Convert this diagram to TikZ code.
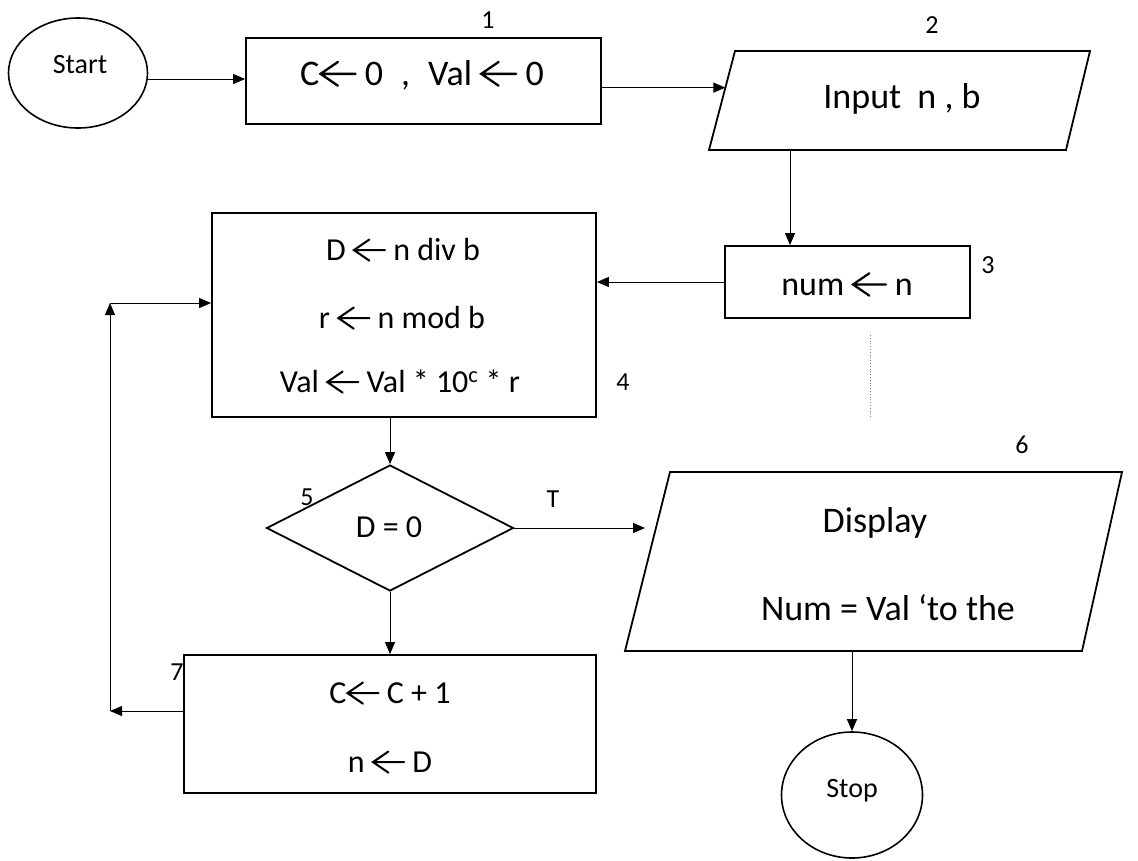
\documentclass[tikz,border=0pt]{standalone}
\usepackage{fontspec}
\setmainfont{Carlito}
\usetikzlibrary{shapes.geometric,arrows.meta,calc}
\newcommand\la{\tikz[baseline=0pt, x=1em, y=1em]{\draw[line width=0.065em, line cap=round, line join=miter] (1.05,0.31) -- (0.1,0.31) (0.56,0.64) -- (0.08,0.31) -- (0.56,-0.02);}}
\tikzset{
  box/.style={draw, line width=1.8pt, rectangle, inner sep=0pt},
  shapeline/.style={draw, line width=1.8pt, line join=miter},
  conn/.style={line width=1pt, -{Triangle[length=12pt,width=10pt]}},
  txt/.style={anchor=base, inner sep=0pt, font=\fontsize{34}{40}\selectfont},
  bigtxt/.style={anchor=base, inner sep=0pt, font=\fontsize{36}{40}\selectfont},
  midtxt/.style={anchor=base, inner sep=0pt, font=\fontsize{32}{38}\selectfont},
  small/.style={anchor=base, inner sep=0pt, font=\fontsize{28}{32}\selectfont},
  lab/.style={anchor=base, inner sep=0pt, font=\fontsize{26}{30}\selectfont},
}
\begin{document}
\begin{tikzpicture}[x=1pt,y=-1pt]
\useasboundingbox[fill=white] (0,0) rectangle (1138,860);

% Start
\node[draw, ellipse, line width=1.6pt, minimum width=139pt, minimum height=110pt, inner sep=0pt] (start) at (78,73) {};
\node[small] (starttxt) at (80,73) {Start};

% Box 1
\node[box, minimum width=355pt, minimum height=86pt] (box1) at (423.5,81) {};
\node[bigtxt] (box1txt) at (422,85) {C\la{} 0\enspace,\enspace Val \la{} 0};
\node[lab] (l1) at (488,28) {1};

% Parallelogram 2
\coordinate (p2tl) at (735,51);
\coordinate (p2tr) at (1090,51);
\coordinate (p2br) at (1066,150);
\coordinate (p2bl) at (709,150);
\draw[shapeline] (p2tl) -- (p2tr) -- (p2br) -- (p2bl) -- cycle;
\coordinate (p2in) at ($(p2tl)!0.37!(p2bl)$);
\coordinate (p2out) at (790,150);
\node[bigtxt] (p2txt) at (902,108) {Input \ n , b};
\node[lab] (l2) at (932,33) {2};

% Box 3
\node[box, minimum width=245pt, minimum height=72pt] (box3) at (847.5,282) {};
\node[txt] (box3txt) at (847,295) {num \la{} n};
\node[lab] (l3) at (988,273) {3};
\coordinate (d1) at (870,335);
\coordinate (d2) at (870,417);
\draw[dotted, line width=0.8pt, gray] (d1) -- (d2);

% Box 4
\node[box, minimum width=384pt, minimum height=204pt] (box4) at (404,315) {};
\node[midtxt] (b4a) at (403,260) {D \la{} n div b};
\node[midtxt] (b4b) at (402,328) {r \la{} n mod b};
\node[midtxt] (b4c) at (400,392) {Val \la{} Val * 10\textsuperscript{c} * r};
\node[lab] (l4) at (623,390) {4};

% Diamond 5
\node[draw, diamond, line width=1.8pt, minimum width=247pt, minimum height=126pt, inner sep=0pt, aspect=1.96] (dia) at (390,528) {};
\node[midtxt] (diatxt) at (389,537) {D = 0};
\node[lab] (l5) at (307,505) {5};
\node[lab] (lt) at (553,507) {T};

% Parallelogram 6
\coordinate (p6tl) at (670,472);
\coordinate (p6tr) at (1122,472);
\coordinate (p6br) at (1082,651);
\coordinate (p6bl) at (625,651);
\draw[shapeline] (p6tl) -- (p6tr) -- (p6br) -- (p6bl) -- cycle;
\coordinate (p6in) at (645,528);
\coordinate (p6out) at (850,651);
\node[bigtxt] (p6a) at (875,532) {Display};
\node[bigtxt] (p6b) at (888,620) {Num = Val ‘to the};
\node[lab] (l6) at (1022,453) {6};

% Stop
\node[draw, ellipse, line width=1.6pt, minimum width=141pt, minimum height=126pt, inner sep=0pt] (stop) at (852,795) {};
\node[small] (stoptxt) at (852,797) {Stop};

% Box 7
\node[box, minimum width=412pt, minimum height=138pt] (box7) at (390,724) {};
\node[midtxt] (b7a) at (390,703) {C\la{} C + 1};
\node[midtxt] (b7b) at (390,772) {n \la{} D};
\node[lab] (l7) at (177,680) {7};

% loop coordinates
\coordinate (lb) at (110,711);
\coordinate (ltop) at (110,303);

% connectors
\draw[conn] ([yshift=-6pt]start.east) -- ([yshift=-6pt]start.east -| box1.west);
\draw[conn] (p2in -| box1.east) -- (p2in);
\draw[conn] (p2out) -- (p2out |- box3.north);
\draw[conn] (box3.west) -- (box3.west -| box4.east);
\draw[conn] (box4.south -| dia.north) -- (dia.north);
\draw[conn] (dia.east) -- (p6in);
\draw[conn] (stop.north |- p6out) -- (stop.north);
\draw[conn] (dia.south) -- (dia.south |- box7.north);
\draw[conn] (lb -| box7.west) -- (lb);
\draw[conn] (lb) -- (ltop);
\draw[conn] (ltop) -- (ltop -| box4.west);
\end{tikzpicture}
\end{document}
